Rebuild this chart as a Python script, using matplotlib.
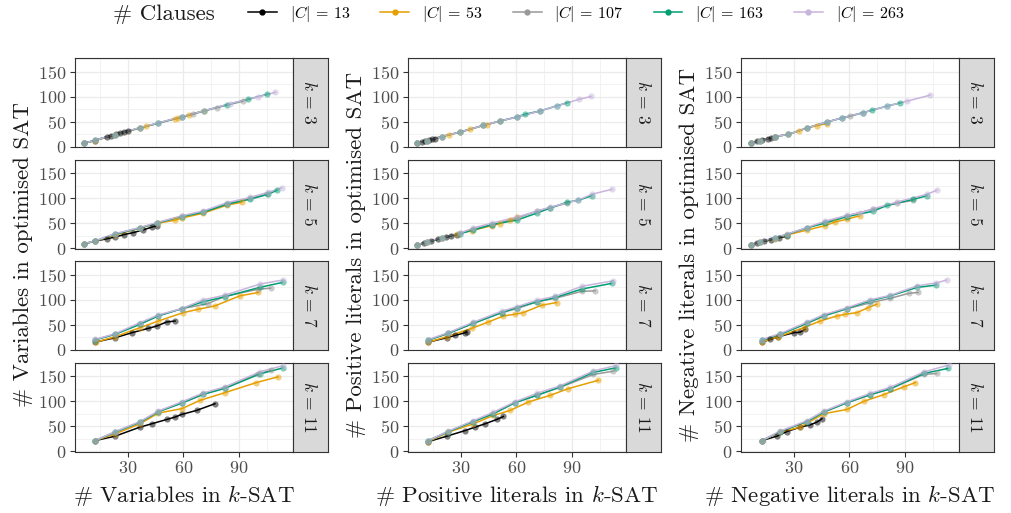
import matplotlib
matplotlib.use('Agg')
import matplotlib.pyplot as plt
from matplotlib.lines import Line2D

plt.rcParams['font.family'] = 'serif'
plt.rcParams['font.serif'] = ['cmr10']
plt.rcParams['mathtext.fontset'] = 'cm'
plt.rcParams['axes.unicode_minus'] = False
plt.rcParams['axes.formatter.use_mathtext'] = True

clauses = [13, 53, 107, 163, 263]
colours = ['#000000', '#E69F00', '#999999', '#009E73', '#C8B4DC']
k_values = [3, 5, 7, 11]
x_labels = ['# Variables in $k$-SAT', '# Positive literals in $k$-SAT', '# Negative literals in $k$-SAT']
y_labels = ['# Variables in optimised SAT', '# Positive literals in optimised SAT',
            '# Negative literals in optimised SAT']

# ---- variables: one sub-list per clause count (13, 53, 107, 163, 263)
var_k3_x = [[6.5, 12.4, 18.7, 21, 23.5, 26, 28, 30],
            [6.5, 12.4, 23.2, 36.6, 40, 55.5, 57, 63, 71],
            [6.5, 12.4, 23.2, 36.6, 46.5, 59, 65, 78, 92],
            [6.5, 12.4, 23.2, 36.6, 46.5, 59, 71.3, 83.3, 95, 105],
            [6.5, 12.4, 23.2, 36.6, 46.5, 59, 71.3, 85, 100.4, 109.6]]
var_k3_y = [[6.7, 12, 19.5, 22, 24.5, 27.5, 29.5, 32],
            [6.7, 12, 23, 37, 40.5, 56, 57, 63, 72],
            [6.7, 12.5, 23.5, 37.5, 47, 59, 65, 78, 91],
            [6.7, 12.5, 24, 37.5, 47, 59.5, 72, 84, 95, 105],
            [6.7, 12.5, 24, 38, 47.5, 60, 72, 86, 100, 109]]
var_k5_x = [[6.5, 12.4, 18.7, 23.2, 28, 33, 38, 43, 45.6],
            [6.5, 12.4, 23.2, 36.6, 46.5, 55.5, 59, 70.7, 83.3, 91.4],
            [6.5, 12.4, 23.2, 36.6, 45.6, 59, 70.7, 83.3, 95.8, 105],
            [6.5, 12.4, 23.2, 36.6, 45.6, 59, 70.7, 83.3, 95.8, 105.6, 110.3],
            [6.5, 12.4, 23.2, 36.6, 45.6, 59, 70.7, 83.3, 95.8, 105.6, 113]]
var_k5_y = [[8.5, 13.8, 18.5, 22, 27, 31, 36, 42, 45],
            [8.5, 13.8, 26, 40, 50, 56, 60, 70, 86, 92],
            [8.5, 14, 28, 41, 50, 64, 73, 88, 100, 108],
            [8.5, 14, 28, 40, 50, 63, 72, 88, 98, 108, 116],
            [8.5, 14.5, 29, 41, 51, 64.5, 74.5, 91, 101.6, 112, 121]]
var_k7_x = [[12.4, 23.2, 32.2, 41.1, 45.6, 51, 55.5],
            [12.8, 23.2, 36.6, 46.5, 60, 68, 77, 90.5, 100.4],
            [12.4, 23.2, 36.6, 46.5, 59, 73, 82.4, 100, 107],
            [12.4, 23.2, 36.6, 46.5, 59, 70.7, 82.4, 101.2, 113.5],
            [12.4, 23.2, 36.6, 46.5, 59, 70.7, 82.4, 101.2, 113.5]]
var_k7_y = [[14.8, 23.6, 33.7, 42.5, 47.2, 55.3, 57.3],
            [14.8, 25.6, 43.9, 57.3, 74.2, 81, 87.7, 108, 114.7],
            [19.5, 31, 52, 68, 82, 92, 107, 121, 123.5],
            [19.5, 30.4, 50.6, 67.5, 82, 96, 106.2, 125, 135],
            [20.2, 31.7, 54, 69.5, 82.3, 99.8, 109.3, 131.6, 139.7]]
var_k11_x = [[12.4, 23.2, 36.6, 42.9, 51, 55.5, 59, 67.1, 77],
             [12.4, 23.2, 36.6, 46.5, 59, 69, 82.4, 99.4, 111],
             [12.4, 23.2, 36.6, 46.5, 59, 70.7, 82.4, 100, 107],
             [12.4, 23.2, 36.6, 46.5, 59, 70.7, 82.4, 101.2, 113.5],
             [12.4, 23.2, 36.6, 46.5, 59, 70.7, 82.4, 101.2, 113.5]]
var_k11_y = [[20.9, 29.8, 48, 54.7, 63.4, 68.2, 73.5, 81.6, 95.1],
             [20.9, 34.4, 54.7, 76.3, 85, 101.8, 117.4, 137.7, 149.2],
             [20.9, 38, 58, 79, 97, 114, 127, 155, 162],
             [20.9, 38, 58, 79, 96, 114, 126, 155, 167],
             [20.9, 39, 59.3, 80.4, 98.6, 116.8, 129, 159.3, 171.5]]

# ---- positive literals
pos_k3_x = [[6.6, 9, 11, 13, 14.5, 16.2],
            [6.6, 12, 19.8, 23.9, 29.6, 35, 42.2, 44, 51.2],
            [6.6, 12, 19.8, 29.6, 42.2, 51.2, 60.2, 72.7],
            [6.6, 12, 19.8, 29.6, 42.2, 51.2, 60.2, 64.6, 72.7, 81.7, 87.1],
            [6.6, 12, 19.8, 29.6, 42.2, 51.2, 60.2, 72.7, 81.7, 93.9, 100.2]]
pos_k3_y = [[6.7, 9, 11, 13, 14.5, 16],
            [6.7, 12, 20, 23.6, 29, 34.4, 42.5, 44, 51.2],
            [6.7, 12, 20, 29, 42.5, 51.2, 59.3, 71.5],
            [6.7, 12, 20, 29, 42.5, 51.2, 59.3, 64.8, 71.5, 81.6, 87.7],
            [6.7, 12, 20, 29, 42.5, 51.2, 59.3, 71.5, 81.6, 95, 100.6]]
pos_k5_x = [[6.6, 10, 14, 18, 22, 25, 27.8],
            [6.6, 12, 20, 28, 35.9, 46.7, 51, 56.6, 60.2],
            [6.6, 12, 20, 29.6, 36.8, 46.7, 60.2, 70.9, 78, 87.1],
            [6.6, 12, 20, 29.6, 36.8, 46.7, 60.2, 70.9, 78, 87.1, 93.4, 100.6],
            [6.6, 12, 20, 29.6, 36.8, 46.7, 60.2, 70.9, 78, 93.4, 100.6, 111.4]]
pos_k5_y = [[6.7, 10, 14, 18, 22, 25, 27],
            [6.7, 12, 21, 28, 35, 45, 49, 56, 62],
            [6.7, 12.5, 21, 30, 38, 46, 60, 74, 81, 90],
            [6.7, 12, 20, 29, 36, 47, 56, 70, 80, 92, 96, 105],
            [6.7, 12.5, 21, 30, 40.5, 50, 62, 74, 82, 96.4, 108, 118]]
pos_k7_x = [[12.5, 22.4, 26.9, 32.3, 33.2],
            [12.5, 22.4, 35.9, 44.9, 53, 59.2, 63.7, 73.6, 81.7],
            [12.5, 23.3, 36.8, 52.1, 60.2, 71, 80.9, 95.2, 102.4],
            [12.5, 23.3, 36.8, 52.1, 60.2, 71, 80.9, 95.2, 111.4],
            [12.5, 23.3, 36.8, 52.1, 60.2, 71, 80.9, 95.2, 112.3]]
pos_k7_y = [[14.8, 23.6, 28.3, 33.7, 35.1],
            [14.8, 25.6, 42.5, 55.3, 67.5, 70.9, 74.2, 89, 94.5],
            [18.9, 32.4, 52.6, 74.2, 82, 96, 103, 117, 118],
            [18.9, 32.4, 52.6, 74.2, 84.4, 95.8, 104.6, 121.5, 133],
            [20, 34, 55, 77, 86, 99, 107, 127, 138.3]]
pos_k11_x = [[12.5, 22.4, 32.3, 37.7, 43.1, 49.4, 53],
             [12.5, 23.3, 36.8, 47.6, 56.6, 66.5, 78.2, 88, 104.2],
             [12.5, 23.3, 36.8, 47.6, 59.2, 71, 83.6, 101.5, 112.3],
             [12.5, 23.3, 36.8, 47.6, 59.2, 71, 83.6, 101.5, 113.7],
             [12.5, 23.3, 36.8, 47.6, 59.2, 71, 83.6, 101.5, 113.7]]
pos_k11_y = [[18.8, 29.7, 41, 48, 54.7, 63.4, 69.4],
             [18.8, 37.9, 54.7, 71.5, 81.6, 98.6, 111.9, 125.5, 142.3],
             [20.9, 39, 59.3, 75, 97, 112, 128, 154, 160.5],
             [20.9, 39, 59.3, 74.9, 97.2, 111.9, 129, 158, 167.5],
             [20.9, 40, 61, 78, 99, 116, 131, 161, 172]]

# ---- negative literals
neg_k3_x = [[6.8, 10, 13, 16, 18, 19.9],
            [6.8, 12, 20, 27.1, 33, 37, 42.4, 47.8],
            [6.8, 12, 20, 27.1, 37, 47.8, 55.9, 60.3, 67.5],
            [6.8, 12, 20, 27.1, 37, 47.8, 55.9, 67.5, 72, 80.1, 87.3],
            [6.8, 12, 20, 27.1, 37, 47.8, 55.9, 67.5, 80.1, 90.9, 103.4]]
neg_k3_y = [[6.7, 10.5, 13.5, 16, 18, 18.8],
            [6.7, 12, 20, 24.3, 32, 37, 42, 46],
            [6.7, 12, 20, 24.3, 37, 49.2, 57.3, 60.7, 68.2],
            [6.7, 12, 20, 24.3, 37, 49.2, 57.3, 68.2, 72.9, 81, 87.7],
            [6.7, 12, 20, 24.3, 37, 49.2, 57.3, 68.2, 81, 91, 103.2]]
neg_k5_x = [[6.8, 10, 14, 18, 22, 26.2],
            [6.8, 12, 20, 26.2, 37, 46.9, 52, 58.6, 65.7],
            [6.8, 12, 20, 26.2, 37, 46.9, 58.6, 72.9, 85.5, 94.4],
            [6.8, 12, 20, 26.2, 37, 46.9, 58.6, 72.9, 80.1, 94.4, 101.7],
            [6.8, 12, 20, 26.2, 37, 46.9, 58.6, 65.7, 72.9, 85.5, 101.7, 107]]
neg_k5_y = [[6.7, 10, 13.5, 17, 20.5, 23.5],
            [6.7, 12, 19, 26, 36, 45, 52, 58, 65],
            [6.7, 12.5, 20, 27, 40, 53, 65, 78, 90, 96],
            [6.7, 12.5, 20, 27, 40.5, 50, 63, 74, 85.6, 97.8, 105],
            [6.7, 13, 21, 28, 41, 53.8, 65.4, 70.8, 79, 92.3, 108, 116]]
neg_k7_x = [[12.8, 17.3, 21.8, 29.9, 33.5, 36.2],
            [12.8, 21.8, 35.3, 44.3, 53.3, 57.8, 64.1, 70, 74.7],
            [12.8, 22.7, 37.1, 46.1, 58.7, 71.3, 82.1, 92, 97.1],
            [12.8, 22.7, 37.1, 46.1, 58.7, 71.3, 82.1, 96.5, 106.9],
            [12.8, 22.7, 37.1, 46.1, 58.7, 71.3, 82.1, 96.5, 106.9, 112.4]]
neg_k7_y = [[14.8, 20.2, 25.7, 33.7, 35, 40.5],
            [14.8, 25.7, 43.9, 57.3, 67.5, 70.9, 74.2, 84, 91],
            [18.9, 30.4, 52.6, 67.5, 82, 94, 103, 113, 114.8],
            [18.9, 30.4, 52.6, 67.5, 82.4, 97.8, 107.9, 124.9, 129.6],
            [20, 32, 55, 70, 84, 100, 109, 128, 134, 139.7]]
neg_k11_x = [[12.8, 20.9, 26.3, 33.5, 38.9, 42.5, 45.2],
             [12.8, 22.7, 33.5, 46.1, 58.7, 67.7, 78.5, 89.3, 95.6],
             [12.8, 22.7, 37.1, 46.1, 58.7, 71.3, 82.1, 100.1, 107],
             [12.8, 22.7, 37.1, 46.1, 58.7, 71.3, 82.1, 100.1, 113],
             [12.8, 22.7, 37.1, 46.1, 58.7, 71.3, 82.1, 100.1, 113.5]]
neg_k11_y = [[20.9, 29.8, 39.1, 48, 52.6, 58.1, 64.8],
             [20.9, 37.9, 48, 74.9, 83.6, 99.8, 113.4, 129, 137.7],
             [20.9, 39, 59, 78, 97, 113, 125, 154, 155.9],
             [20.9, 39, 59.3, 78.3, 97.2, 113.4, 125.5, 155.9, 166],
             [20.9, 40, 61, 80, 99, 116, 128, 159, 173]]

columns = [
    [(var_k3_x, var_k3_y), (var_k5_x, var_k5_y), (var_k7_x, var_k7_y), (var_k11_x, var_k11_y)],
    [(pos_k3_x, pos_k3_y), (pos_k5_x, pos_k5_y), (pos_k7_x, pos_k7_y), (pos_k11_x, pos_k11_y)],
    [(neg_k3_x, neg_k3_y), (neg_k5_x, neg_k5_y), (neg_k7_x, neg_k7_y), (neg_k11_x, neg_k11_y)],
]

W, H = 1011, 513
fig = plt.figure(figsize=(W / 100, H / 100), dpi=100)


def box(l, t, w, h):
    return [l / W, 1 - (t + h) / H, w / W, h / H]


col_left = [75, 408, 741]
row_top = [58, 159.5, 261, 362.5]
pw, ph, sw = 217.5, 89, 35
dark = '#333333'

for c in range(3):
    for r in range(4):
        ax = fig.add_axes(box(col_left[c], row_top[r], pw, ph))
        xs, ys = columns[c][r]
        for i in range(5):
            ax.plot(xs[i], ys[i], color=colours[i], lw=1.1, zorder=2)
        for i in range(5):
            ax.scatter(xs[i], ys[i], s=20, color=colours[i], alpha=0.5, lw=0, zorder=3)
        ax.set_xlim(1.6, 118.8)
        ax.set_ylim(-1, 178)
        ax.set_xticks([30, 60, 90])
        ax.set_xticks([15, 45, 75, 105], minor=True)
        ax.set_yticks([0, 50, 100, 150])
        ax.set_yticks([25, 75, 125, 175], minor=True)
        ax.grid(which='major', color='#EBEBEB', lw=0.9)
        ax.grid(which='minor', color='#F0F0F0', lw=0.6)
        ax.set_axisbelow(True)
        for s in ax.spines.values():
            s.set_color(dark)
            s.set_linewidth(0.8)
        ax.tick_params(which='minor', length=0)
        ax.tick_params(which='major', length=3.5, width=0.8, color=dark,
                       labelcolor='#4D4D4D', labelsize=13, pad=2.5)
        if r < 3:
            ax.tick_params(axis='x', which='major', length=0, labelbottom=False)

        sax = fig.add_axes(box(col_left[c] + pw, row_top[r], sw, ph))
        sax.set_facecolor('#D9D9D9')
        sax.set_xticks([])
        sax.set_yticks([])
        for s in sax.spines.values():
            s.set_color(dark)
            s.set_linewidth(0.8)
        sax.text(0.5, 0.5, '$k$ = %d' % k_values[r], rotation=270, ha='center', va='center',
                 fontsize=12.5, color='#1A1A1A', transform=sax.transAxes)

    fig.text((col_left[c] + pw / 2) / W, 1 - 495 / H, x_labels[c], ha='center', va='center',
             fontsize=16.5, color='#1A1A1A')
    fig.text((col_left[c] - 52) / W, 1 - (row_top[0] + row_top[3] + ph) / 2 / H, y_labels[c],
             rotation=90, ha='center', va='center', fontsize=16.5, color='#1A1A1A')

fig.text(113 / W, 1 - 14 / H, '# Clauses', ha='left', va='center', fontsize=16.5, color='#1A1A1A')
handles = [Line2D([], [], color=colours[i], lw=1.1, marker='o', ms=3.5) for i in range(5)]
labels = ['$|C|$ = %d' % n for n in clauses]
fig.legend(handles, labels, loc='center left', bbox_to_anchor=(248 / W, 1 - 14 / H), ncol=5,
           frameon=False, fontsize=11.5, handlelength=1.8, handletextpad=0.8, columnspacing=1.9,
           borderaxespad=0, borderpad=0)

fig.savefig('out.png', dpi=100)
